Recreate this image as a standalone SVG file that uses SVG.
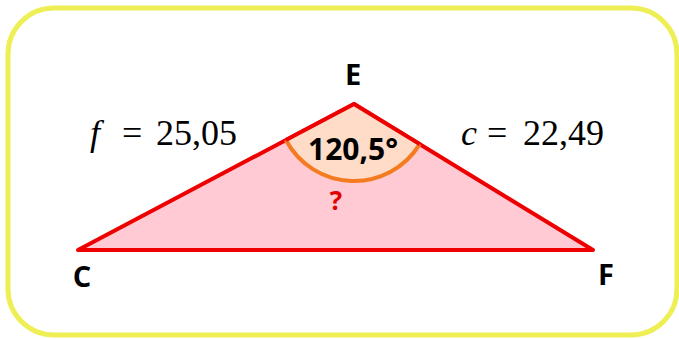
<svg xmlns="http://www.w3.org/2000/svg" width="679" height="339" viewBox="0 0 679 339">
<style>
.lbl{font-family:"Open Sans","DejaVu Sans",sans-serif;font-weight:bold;fill:#000;text-anchor:middle}
.math{font-family:"Liberation Serif","DejaVu Serif",serif;font-size:36px;fill:#000}
</style>
<rect x="8" y="8" width="669" height="327" rx="46" fill="#fff" stroke="#EEEE55" stroke-width="5"/>
<g id="triangle">
<polygon points="78,250 354,104 593,250" fill="#FFCAD3" stroke="#EE0000" stroke-width="4" stroke-linejoin="round"/>
</g>
<g id="angle">
<path d="M354,104 L285.9,140 A77,77 0 0 0 419.7,144.1 Z" fill="#FFDCC8" stroke="none"/>
<path d="M285.9,140 A77,77 0 0 0 419.7,144.1" fill="none" stroke="#F47B20" stroke-width="4"/>
<polyline points="285.9,140 354,104 419.7,144.1" fill="none" stroke="#EE0000" stroke-width="4" stroke-linejoin="round"/>
<text class="lbl" x="353" y="160" font-size="30">120,5°</text>
<text class="lbl" x="336" y="210" font-size="26" style="fill:#E00000">?</text>
</g>
<g id="E"><text class="lbl" x="353" y="85" font-size="29">E</text></g>
<g id="C"><text class="lbl" x="82" y="287" font-size="29">C</text></g>
<g id="F"><text class="lbl" x="606" y="285" font-size="29">F</text></g>
<g id="side-f"><text class="math" y="145"><tspan x="90" font-style="italic">f</tspan><tspan x="122">=</tspan><tspan x="156">25,05</tspan></text></g>
<g id="side-c"><text class="math" y="145"><tspan x="461" font-style="italic">c</tspan><tspan x="487">=</tspan><tspan x="523">22,49</tspan></text></g>
</svg>
